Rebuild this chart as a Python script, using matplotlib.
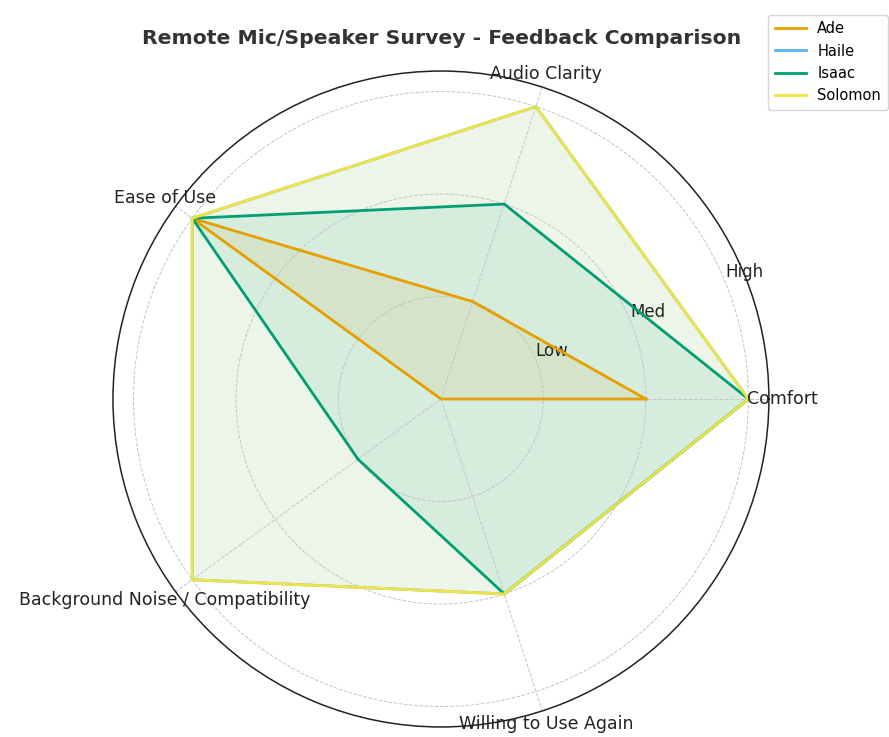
import numpy as np
import matplotlib
matplotlib.use('Agg')
import matplotlib.pyplot as plt

categories = ['Comfort', 'Audio Clarity', 'Ease of Use',
              'Background Noise / Compatibility', 'Willing to Use Again']
level_labels = ['Low', 'Med', 'High']

ade = [2, 1, 3, 0, 0]
haile = [3, 3, 3, 3, 2]
isaac = [3, 2, 3, 1, 2]
solomon = [3, 3, 3, 3, 2]

names = ['Ade', 'Haile', 'Isaac', 'Solomon']
series = [ade, haile, isaac, solomon]
colors = ['#E69F00', '#56B4E9', '#009E73', '#F0E442']

n = len(categories)
angles = np.linspace(0, 2 * np.pi, n, endpoint=False)
angles_c = np.concatenate([angles, angles[:1]])

fig = plt.figure(figsize=(8.89, 7.37), dpi=100)
ax = fig.add_axes([0.127, 0.0136, 0.738, 0.89], polar=True)

for name, vals, c in zip(names, series, colors):
    v = np.concatenate([vals, vals[:1]])
    ax.plot(angles_c, v, color=c, linewidth=2, label=name)
    ax.fill(angles_c, v, color=c, alpha=0.1)

ax.set_ylim(0, 3.2)
ax.set_yticks([1, 2, 3])
ax.set_yticklabels(level_labels, fontsize=12, color='#222222')
ax.set_rlabel_position(22.5)
ax.set_xticks(angles)
ax.set_xticklabels([])
for a, lab in zip(angles, categories):
    ax.text(a, 3.33, lab, ha='center', va='center', fontsize=12.5, color='#222222')

ax.grid(True, color='#c4c4c4', linestyle='--', linewidth=0.7)
ax.spines['polar'].set_color('#222222')
ax.spines['polar'].set_linewidth(1.1)

fig.text(0.497, 0.948, 'Remote Mic/Speaker Survey - Feedback Comparison',
         ha='center', va='center', fontsize=14.7, fontweight='bold', color='#333333')

fig.legend(loc='upper right', bbox_to_anchor=(1.0, 0.982), borderaxespad=0.1,
           fontsize=10.5, frameon=True, handlelength=2.1, borderpad=0.45,
           labelspacing=0.5)

fig.savefig('out.png', dpi=100)
